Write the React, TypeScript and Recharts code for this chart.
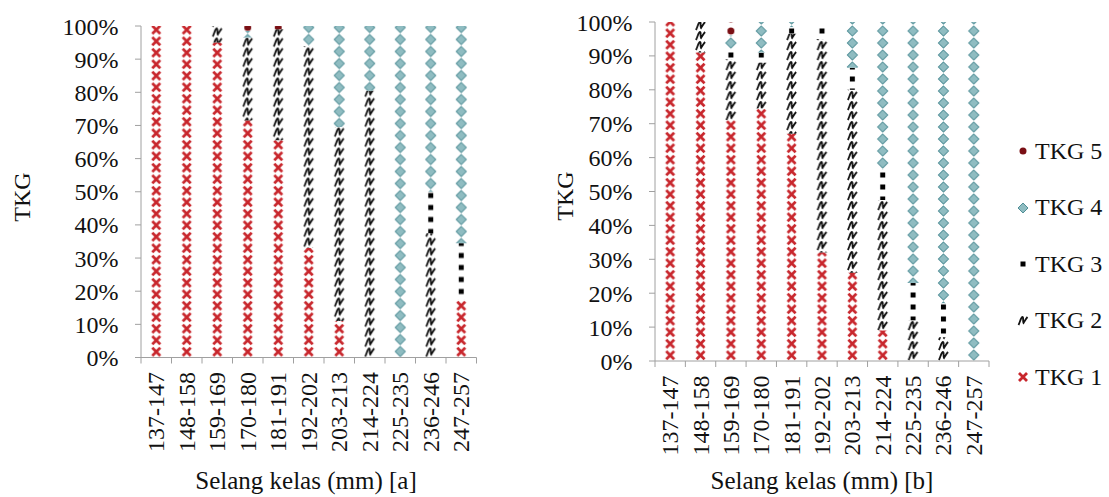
import { Bar, BarChart, XAxis, YAxis } from "recharts";

const categories = [
  "137-147", "148-158", "159-169", "170-180", "181-191", "192-202",
  "203-213", "214-224", "225-235", "236-246", "247-257",
];

// panel [a]
const tkg1A = [100, 100, 95, 71.5, 65.5, 33, 11, 0, 0, 0, 17.5];
const tkg2A = [0, 0, 5, 25, 33.5, 61, 58.5, 80.5, 0, 37.5, 0];
const tkg3A = [0, 0, 0, 0, 0, 0, 0, 0, 0, 12.5, 17];
const tkg4A = [0, 0, 0, 2, 0, 6, 30.5, 19.5, 100, 50, 65.5];
const tkg5A = [0, 0, 0, 1.5, 1, 0, 0, 0, 0, 0, 0];

// panel [b]
const tkg1B = [100, 91, 71, 74.5, 67, 32, 26, 9, 0, 0, 0];
const tkg2B = [0, 9, 18, 13.5, 29.5, 63, 54, 38.5, 12, 7, 0];
const tkg3B = [0, 0, 3, 3, 2, 5, 6.5, 9, 11, 10, 0];
const tkg4B = [0, 0, 4, 9, 1.5, 0, 13.5, 43.5, 77, 83, 100];
const tkg5B = [0, 0, 4, 0, 0, 0, 0, 0, 0, 0, 0];

const yTicks = [0, 0.1, 0.2, 0.3, 0.4, 0.5, 0.6, 0.7, 0.8, 0.9, 1];
const legendNames = ["TKG 5", "TKG 4", "TKG 3", "TKG 2", "TKG 1"];

const font = "Liberation Serif, DejaVu Serif, serif";
const gray = "#a0a0a0";
const red = "#c8262c";
const teal = "#8fbcc1";
const tealEdge = "#4f8e96";
const darkRed = "#7a0f14";

const build = (s1: number[], s2: number[], s3: number[], s4: number[], s5: number[]) =>
  categories.map((name, i) => ({ name, tkg1: s1[i], tkg2: s2[i], tkg3: s3[i], tkg4: s4[i], tkg5: s5[i] }));

const dataA = build(tkg1A, tkg2A, tkg3A, tkg4A, tkg5A);
const dataB = build(tkg1B, tkg2B, tkg3B, tkg4B, tkg5B);

const squiggle = (cx: number, cy: number) =>
  `M${cx - 4.5},${cy + 4} C${cx - 3},${cy + 1} ${cx - 2},${cy - 4} ${cx - 0.5},${cy - 4} ` +
  `C${cx + 0.8},${cy - 4} ${cx - 0.5},${cy + 1} ${cx + 0.5},${cy + 2} C${cx + 1.5},${cy + 0.5} ${cx + 3},${cy - 2.5} ${cx + 4.5},${cy - 4}`;

function patternDefs(id: string, left: number, bottom: number, bw: number) {
  const c = bw / 2;
  return (
    <defs>
      <pattern id={`${id}-1`} patternUnits="userSpaceOnUse" x={left} y={bottom} width={bw} height={11.5}>
        <path d={`M${c - 4},1.75 L${c + 4},9.75 M${c + 4},1.75 L${c - 4},9.75`} stroke={red} strokeWidth={2.8} />
      </pattern>
      <pattern id={`${id}-2`} patternUnits="userSpaceOnUse" x={left} y={bottom} width={bw} height={10}>
        <path d={squiggle(c, 5)} stroke="#111" strokeWidth={1.8} fill="none" />
      </pattern>
      <pattern id={`${id}-3`} patternUnits="userSpaceOnUse" x={left} y={bottom} width={bw} height={12}>
        <rect x={c - 2.5} y={3.5} width={5} height={5} fill="#000" />
      </pattern>
      <pattern id={`${id}-4`} patternUnits="userSpaceOnUse" x={left} y={bottom} width={bw} height={12}>
        <polygon points={`${c},1 ${c + 5},6 ${c},11 ${c - 5},6`} fill={teal} stroke={tealEdge} strokeWidth={1} />
      </pattern>
      <pattern id={`${id}-5`} patternUnits="userSpaceOnUse" x={left} y={bottom} width={bw} height={12}>
        <circle cx={c} cy={6} r={3.5} fill={darkRed} />
      </pattern>
    </defs>
  );
}

function Panel({
  id,
  data,
  width,
  plotLeft,
  plotRight,
  plotTop,
  plotBottom,
  xTitle,
  xTitleX,
  yTitleX,
  yTitleY,
}: {
  id: string;
  data: typeof dataA;
  width: number;
  plotLeft: number;
  plotRight: number;
  plotTop: number;
  plotBottom: number;
  xTitle: string;
  xTitleX: number;
  yTitleX: number;
  yTitleY: number;
}) {
  const height = 497;
  const yAxisWidth = 100;
  const xAxisHeight = 120;
  const bw = (plotRight - plotLeft) / categories.length;

  const CategoryTick = (props: any) => {
    const { x, index, payload } = props;
    const tx = x + 8;
    const ty = plotBottom + 14.5;
    return (
      <g>
        <line x1={x - bw / 2} x2={x - bw / 2} y1={plotBottom} y2={plotBottom + 6} stroke={gray} />
        {index === categories.length - 1 && (
          <line x1={x + bw / 2} x2={x + bw / 2} y1={plotBottom} y2={plotBottom + 6} stroke={gray} />
        )}
        <text
          x={tx}
          y={ty}
          transform={`rotate(-90, ${tx}, ${ty})`}
          textAnchor="end"
          style={{ fontFamily: font, fontSize: 24 }}
          fill="#111"
        >
          {payload.value}
        </text>
      </g>
    );
  };

  return (
    <BarChart
      width={width}
      height={height}
      data={data}
      stackOffset="expand"
      barSize={14}
      style={{ fontFamily: font }}
      margin={{
        top: plotTop,
        left: plotLeft - yAxisWidth,
        right: width - plotRight,
        bottom: height - plotBottom - xAxisHeight,
      }}
    >
      {patternDefs(id, plotLeft, plotBottom, bw)}
      <XAxis
        dataKey="name"
        height={xAxisHeight}
        interval={0}
        tickLine={false}
        tickSize={0}
        axisLine={{ stroke: gray }}
        tick={CategoryTick}
        label={{
          content: () => (
            <text x={xTitleX} y={489} textAnchor="middle" style={{ fontFamily: font, fontSize: 25 }} fill="#111">
              {xTitle}
            </text>
          ),
        }}
      />
      <YAxis
        width={yAxisWidth}
        domain={[0, 1]}
        ticks={yTicks}
        interval={0}
        tickSize={6}
        tickMargin={16.5}
        axisLine={{ stroke: gray }}
        tickLine={{ stroke: gray }}
        tick={{ fill: "#111", fontSize: 24, style: { fontFamily: font } }}
        tickFormatter={(v: number) => `${Math.round(v * 100)}%`}
        label={{
          content: () => (
            <text
              x={yTitleX}
              y={yTitleY}
              transform={`rotate(-90, ${yTitleX}, ${yTitleY})`}
              textAnchor="middle"
              style={{ fontFamily: font, fontSize: 24 }}
              fill="#111"
            >
              TKG
            </text>
          ),
        }}
      />
      <Bar dataKey="tkg1" stackId="s" fill={`url(#${id}-1)`} isAnimationActive={false} />
      <Bar dataKey="tkg2" stackId="s" fill={`url(#${id}-2)`} isAnimationActive={false} />
      <Bar dataKey="tkg3" stackId="s" fill={`url(#${id}-3)`} isAnimationActive={false} />
      <Bar dataKey="tkg4" stackId="s" fill={`url(#${id}-4)`} isAnimationActive={false} />
      <Bar dataKey="tkg5" stackId="s" fill={`url(#${id}-5)`} isAnimationActive={false} />
    </BarChart>
  );
}

function LegendMarker({ index }: { index: number }) {
  const c = 7;
  return (
    <svg width={14} height={14} style={{ display: "block" }}>
      {index === 0 && <circle cx={c} cy={c} r={3.5} fill={darkRed} />}
      {index === 1 && (
        <polygon points={`${c},2 ${c + 5},7 ${c},12 ${c - 5},7`} fill={teal} stroke={tealEdge} strokeWidth={1} />
      )}
      {index === 2 && <rect x={c - 2.5} y={c - 2.5} width={5} height={5} fill="#000" />}
      {index === 3 && <path d={squiggle(c, c)} stroke="#111" strokeWidth={1.8} fill="none" />}
      {index === 4 && (
        <path d={`M${c - 4},${c - 4} L${c + 4},${c + 4} M${c + 4},${c - 4} L${c - 4},${c + 4}`} stroke={red} strokeWidth={2.8} />
      )}
    </svg>
  );
}

const legendY = [151, 207.5, 264, 320.5, 377];

export default function App() {
  return (
    <div style={{ position: "absolute", left: 0, top: 0, width: 1109, height: 497, background: "#fff", fontFamily: font }}>
      <div style={{ position: "absolute", left: 0, top: 0 }}>
        <Panel
          id="pa"
          data={dataA}
          width={540}
          plotLeft={141}
          plotRight={476.5}
          plotTop={26}
          plotBottom={357.5}
          xTitle="Selang kelas (mm) [a]"
          xTitleX={306}
          yTitleX={30}
          yTitleY={197}
        />
      </div>
      <div style={{ position: "absolute", left: 540, top: 0 }}>
        <Panel
          id="pb"
          data={dataB}
          width={470}
          plotLeft={115}
          plotRight={449}
          plotTop={22}
          plotBottom={361}
          xTitle="Selang kelas (mm) [b]"
          xTitleX={282}
          yTitleX={33}
          yTitleY={196}
        />
      </div>
      {legendNames.map((name, i) => (
        <div
          key={name}
          style={{
            position: "absolute",
            left: 1016,
            top: legendY[i] - 14,
            height: 28,
            display: "flex",
            alignItems: "center",
            gap: 5,
            fontFamily: font,
            fontSize: 24,
            color: "#111",
            whiteSpace: "nowrap",
          }}
        >
          <LegendMarker index={i} />
          <span>{name}</span>
        </div>
      ))}
    </div>
  );
}
